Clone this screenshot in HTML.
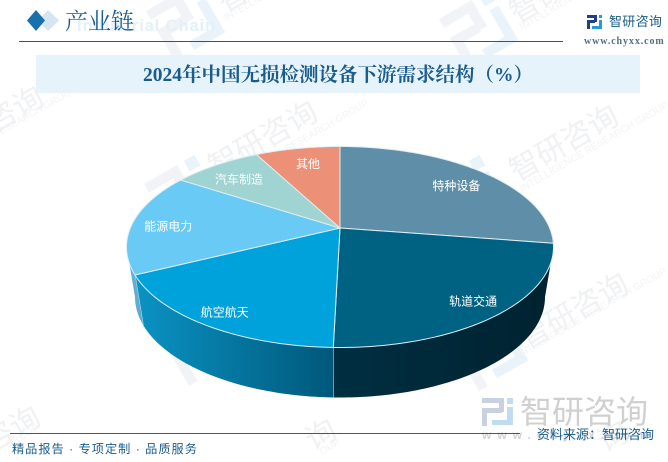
<!DOCTYPE html>
<html lang="zh-CN">
<head>
<meta charset="utf-8">
<title>2024年中国无损检测设备下游需求结构（%）</title>
<style>
html,body{margin:0;padding:0;background:#fff;width:668px;height:462px;overflow:hidden;}
#page{position:relative;width:668px;height:462px;overflow:hidden;background:#fff;font-family:"Liberation Sans","Noto Sans CJK SC",sans-serif;}
#page div,#page span{position:absolute;white-space:nowrap;}
svg{position:absolute;left:0;top:0;}
.wm{fill:#f0f1f3;font-size:30px;letter-spacing:0;font-family:"Liberation Sans","Noto Sans CJK SC",sans-serif;}
.wm-en{fill:#f2f3f5;font-size:10px;font-family:"Liberation Sans",sans-serif;}
</style>
</head>
<body>
<div id="page">

  <svg width="668" height="462">
    <defs>
      <g id="wm-logo">
        <rect x="-30" y="-30" width="38" height="10"/><rect x="-2" y="-30" width="10" height="30"/><rect x="-30" y="-8" width="30" height="10"/><rect x="-30" y="-8" width="10" height="38"/>
        <rect x="16" y="-30" width="12" height="12" fill="#e8f3fb"/><rect x="18" y="-12" width="10" height="34" fill="#eaf3fa"/><rect x="-8" y="18" width="36" height="10" fill="#eaf3fa"/>
      </g>
    </defs>
    <use href="#wm-logo" transform="translate(187,22) rotate(-30)" fill="#f1f3f6"/>
    <use href="#wm-logo" transform="translate(480,30) rotate(-30)" fill="#f1f3f6"/>
    <use href="#wm-logo" transform="translate(470,195) rotate(-30)" fill="#f1f3f6"/>
    <use href="#wm-logo" transform="translate(490,350) rotate(-30)" fill="#f1f3f6"/>
    <use href="#wm-logo" transform="translate(200,345) rotate(-30)" fill="#f1f3f6"/>
    <use href="#wm-logo" transform="translate(185,195) rotate(-30)" fill="#f1f3f6"/>

    <text class="wm" transform="translate(225,13) rotate(-30)">智</text>
    <text class="wm" transform="translate(517,24) rotate(-30)">智研</text>
    <text class="wm" transform="translate(517,182) rotate(-30)">智研咨询</text>
    <text class="wm" transform="translate(-58,163) rotate(-30)">智研咨询</text>
    <text class="wm" transform="translate(216,178) rotate(-30)">智研咨询</text>
    <text class="wm" transform="translate(527,350) rotate(-30)">智研咨询</text>
    <text class="wm" transform="translate(-9,453) rotate(-30)">咨询</text>
    <text class="wm" transform="translate(313,451) rotate(-30)">询</text>
    <text class="wm" transform="translate(605,453) rotate(-30)">询</text>

    <text class="wm-en" transform="translate(226,21) rotate(-30)">INTELLIGENCE</text>
    <text class="wm-en" transform="translate(522,30) rotate(-30)">INTELLIGENCE RE</text>
    <text class="wm-en" transform="translate(522,192) rotate(-30)">INTELLIGENCE RESEARCH GROUP</text>
    <text class="wm-en" transform="translate(-70,176) rotate(-30)">INTELLIGENCE RESEARCH GROUP</text>
    <text class="wm-en" transform="translate(222,190) rotate(-30)">INTELLIGENCE RESEARCH GROUP</text>
    <text class="wm-en" transform="translate(520,358) rotate(-30)">INTELLIGENCE RESEARCH GROUP</text>
    <text class="wm-en" transform="translate(8,448) rotate(-30)">GROUP</text>
    <text class="wm-en" transform="translate(322,455) rotate(-30)">OUP</text>

    <g>
      <rect x="482" y="398" width="22" height="5" fill="#c9d1e0"/><rect x="499" y="398" width="5" height="14" fill="#c9d1e0"/><rect x="482" y="408" width="20" height="5" fill="#c9d1e0"/><rect x="482" y="408" width="5" height="18" fill="#c9d1e0"/>
      <rect x="507" y="398" width="6" height="6" fill="#bfdcf0"/><rect x="507" y="407" width="6" height="18" fill="#bfdcf0"/><rect x="492" y="420" width="21" height="5" fill="#bfdcf0"/>
    </g>
  </svg>

  <div style="left:77px;top:17px;font:bold 16.5px 'Liberation Sans',sans-serif;color:#e3f0fa;letter-spacing:.9px;">Industrial Chain</div>

  <svg width="668" height="462">
    <polygon points="48,10 59,20.5 48,31 38,20.5" fill="#d5e6f0"/>
    <polygon points="36,10 45,20.5 36,31 27,20.5" fill="#1870ac"/>
  </svg>
  <div style="left:65px;top:6px;font:23px/32px 'Liberation Serif','Noto Serif CJK SC',serif;color:#1a5c8c;">产业链</div>
  <div style="left:19px;top:41px;width:544px;height:1px;background:#1a5c85;"></div>

  <svg width="668" height="462">
    <rect x="587" y="15" width="10" height="3" fill="#1d3f8c"/><rect x="594" y="15" width="3" height="7" fill="#1d3f8c"/><rect x="587" y="20" width="8" height="3" fill="#1d3f8c"/><rect x="587" y="20" width="3" height="9" fill="#1d3f8c"/>
    <rect x="599" y="15" width="3" height="3" fill="#2a9ad6"/><rect x="599" y="20" width="3" height="9" fill="#2a9ad6"/><rect x="592" y="26" width="10" height="3" fill="#2a9ad6"/>
  </svg>
  <div style="left:609px;top:12px;font-size:13px;line-height:20px;color:#1a5c85;letter-spacing:.3px;">智研咨询</div>
  <div style="left:584px;top:35px;font:bold 10px/14px 'Liberation Serif',serif;color:#55707f;letter-spacing:.9px;">www.chyxx.com</div>

  <div style="left:36px;top:55px;width:604px;height:38px;background:#e6f3fb;"></div>
  <div style="left:36px;top:55px;width:604px;height:42px;line-height:42px;text-align:center;font-family:'Liberation Serif','Noto Serif CJK SC',serif;font-weight:bold;font-size:19.5px;color:#1a5c8c;">2024年中国无损检测设备下游需求结构（%）</div>

  <svg id="pie" width="668" height="462">
    <defs>
      <linearGradient id="wall-aero" x1="0" x2="1" y1="0" y2="0"><stop offset="0" stop-color="#0a93c4"/><stop offset="1" stop-color="#00587a"/></linearGradient>
      <linearGradient id="wall-rail" x1="0" x2="1" y1="0" y2="0"><stop offset="0" stop-color="#002f42"/><stop offset="1" stop-color="#00222f"/></linearGradient>
      <linearGradient id="wall-energy" x1="0" x2="1" y1="0" y2="0"><stop offset="0" stop-color="#6ab4d8"/><stop offset="1" stop-color="#5aa9cd"/></linearGradient>
    </defs>
  </svg>

  <div style="left:482px;top:428px;font:bold 12px/14px 'Liberation Sans',sans-serif;color:#d2d2d2;letter-spacing:6px;">www.chyxx.com</div>
  <div style="left:10px;top:433px;width:510px;height:1px;background:#1a6496;"></div>
  <div style="left:12px;top:440px;font-size:12.2px;line-height:18px;color:#1a5c8c;letter-spacing:1px;">精品报告 · 专项定制 · 品质服务</div>

  <div style="left:520px;top:394px;font-size:32px;line-height:36px;color:#d0d0d0;">智研咨询</div>
  <div style="left:537px;top:426px;font-size:13px;line-height:18px;color:#1a5c8c;">资料来源：智研咨询</div>
</div>

<script>
var categories = ['特种设备', '轨道交通', '航空航天', '能源电力', '汽车制造', '其他'];
var shares = [24.4, 26.1, 20.0, 16.1, 7.0, 6.4];
var sliceNames = ['special-equipment', 'rail-transit', 'aerospace', 'energy-power', 'auto-manufacturing', 'other'];
var topColors = ['#5f8fa8', '#006283', '#00a2db', '#69caf5', '#9fd4d2', '#ec9078'];
var wallFills = ['#5f8fa8', 'url(#wall-rail)', 'url(#wall-aero)', 'url(#wall-energy)', '#9fd4d2', '#ec9078'];
var labelNudgeX = [-5, 9, -8, -1, 1, 3];
var labelNudgeY = [2, 0, 4, 1, 3, 1];

var NS = 'http://www.w3.org/2000/svg';
var svg = document.getElementById('pie');
var apex = { x: 340, y: 228 };
var topRim = { cx: 340, cy: 247, rx: 213.5, ry: 100.5 };
var baseRim = { cx: 340, cy: 297, rx: 205, ry: 100.5 };
var total = shares.reduce(function (a, b) { return a + b; }, 0);

function rad(d) { return d * Math.PI / 180; }
function rimPoint(rim, deg) {
  return { x: rim.cx + rim.rx * Math.cos(rad(deg)), y: rim.cy + rim.ry * Math.sin(rad(deg)) };
}
function arcPoints(rim, a, b) {
  var pts = [], n = Math.max(2, Math.ceil(Math.abs(b - a)));
  for (var i = 0; i <= n; i++) {
    var p = rimPoint(rim, a + (b - a) * i / n);
    pts.push(p.x.toFixed(2) + ',' + p.y.toFixed(2));
  }
  return pts;
}
function shareToDeg(s) { return s / total * 360; }

var start = -90;
var spans = shares.map(function (s) {
  var span = { from: start, to: start + shareToDeg(s) };
  start = span.to;
  return span;
});

// side walls: only the front half of the cylinder is visible
spans.forEach(function (sp, i) {
  var a = Math.max(sp.from, 0), b = Math.min(sp.to, 180);
  if (b <= a) return;
  var wall = document.createElementNS(NS, 'polygon');
  wall.setAttribute('points', arcPoints(topRim, a, b).concat(arcPoints(baseRim, b, a)).join(' '));
  wall.setAttribute('fill', wallFills[i]);
  
  
  svg.appendChild(wall);
  if (sp.to < 180) {
    var t = rimPoint(topRim, sp.to), u = rimPoint(baseRim, sp.to);
    var edge = document.createElementNS(NS, 'line');
    edge.setAttribute('x1', t.x);
    edge.setAttribute('y1', t.y);
    edge.setAttribute('x2', u.x);
    edge.setAttribute('y2', u.y);
    edge.setAttribute('stroke', '#cfe3ec');
    edge.setAttribute('stroke-width', '1');
    
    
    svg.appendChild(edge);
  }
});

// top face slices
spans.forEach(function (sp, i) {
  var slice = document.createElementNS(NS, 'polygon');
  slice.setAttribute('points', [apex.x + ',' + apex.y].concat(arcPoints(topRim, sp.from, sp.to)).join(' '));
  slice.setAttribute('fill', topColors[i]);
  slice.setAttribute('stroke', '#dfeef3');
  slice.setAttribute('stroke-width', '1');
  slice.setAttribute('stroke-linejoin', 'round');
  
  
  svg.appendChild(slice);
});

// slice labels
spans.forEach(function (sp, i) {
  var m = rimPoint(topRim, (sp.from + sp.to) / 2);
  var f = 0.82;
  var label = document.createElementNS(NS, 'text');
  label.setAttribute('x', apex.x + (m.x - apex.x) * f + labelNudgeX[i]);
  label.setAttribute('y', apex.y + (m.y - apex.y) * f + 4 + labelNudgeY[i]);
  label.setAttribute('text-anchor', 'middle');
  label.setAttribute('fill', '#ffffff');
  label.setAttribute('font-size', '12');
  label.setAttribute('font-family', '"Liberation Sans","Noto Sans CJK SC",sans-serif');
  
  
  label.textContent = categories[i];
  svg.appendChild(label);
});
</script>
</body>
</html>
